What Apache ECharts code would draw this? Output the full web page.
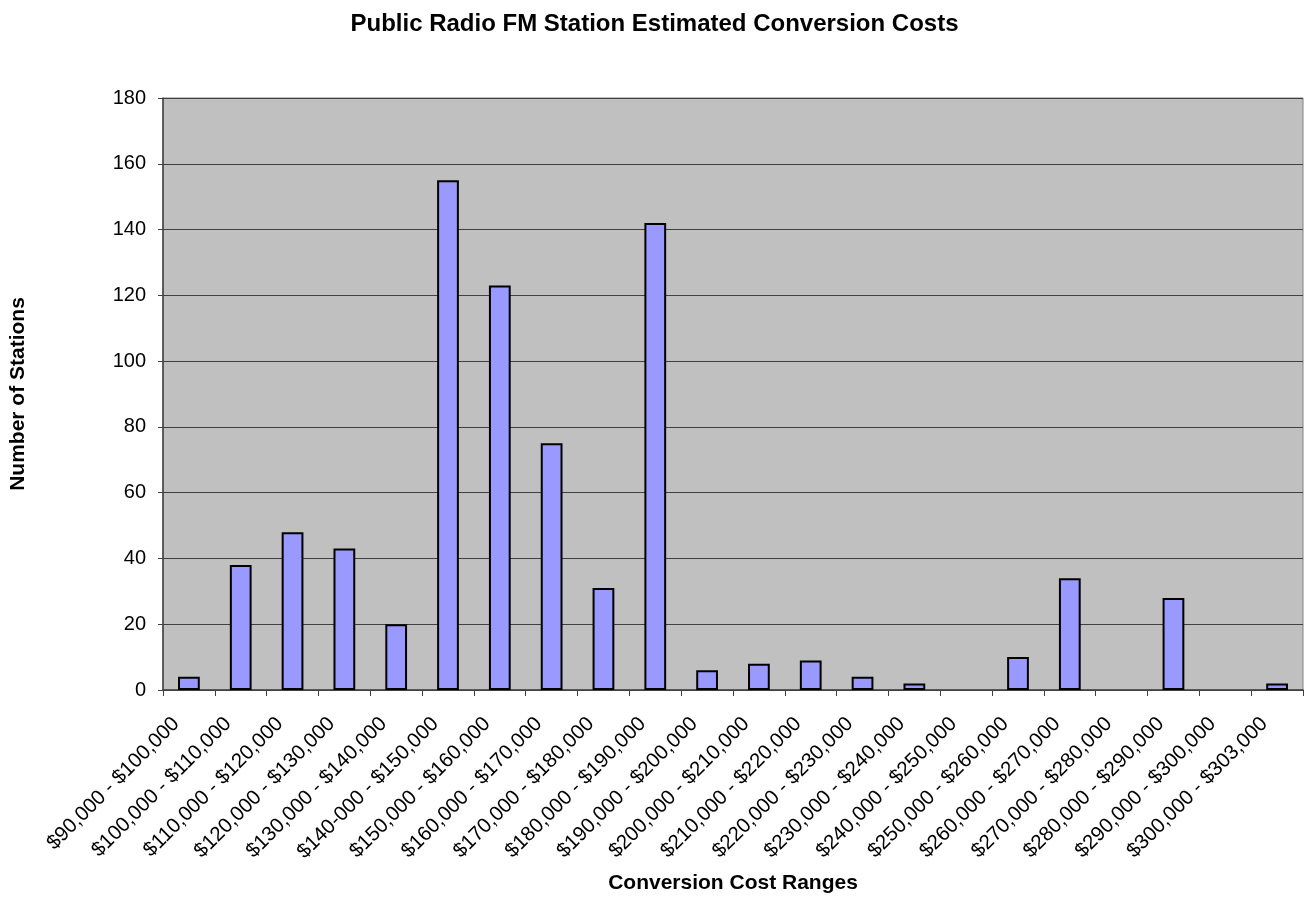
<!DOCTYPE html>
<html>
<head>
<meta charset="utf-8">
<script src="https://cdn.jsdelivr.net/npm/echarts@6/dist/echarts.min.js"></script>
<style>
html,body{margin:0;padding:0;background:#fff;}
#chart{width:1309px;height:899px;}
</style>
</head>
<body>
<div id="chart"></div>
<script>
const categories = [
  "$90,000 - $100,000", "$100,000 - $110,000", "$110,000 - $120,000", "$120,000 - $130,000",
  "$130,000 - $140,000", "$140-000 - $150,000", "$150,000 - $160,000", "$160,000 - $170,000",
  "$170,000 - $180,000", "$180,000 - $190,000", "$190,000 - $200,000", "$200,000 - $210,000",
  "$210,000 - $220,000", "$220,000 - $230,000", "$230,000 - $240,000", "$240,000 - $250,000",
  "$250,000 - $260,000", "$260,000 - $270,000", "$270,000 - $280,000", "$280,000 - $290,000",
  "$290,000 - $300,000", "$300,000 - $303,000"
];
const stations = [4, 38, 48, 43, 20, 155, 123, 75, 31, 142, 6, 8, 9, 4, 2, 0, 10, 34, 0, 28, 0, 2];
const yTicks = { min: 0, max: 180, interval: 20 };

const chart = echarts.init(document.getElementById('chart'), null, { renderer: 'canvas' });
const font = '"Liberation Sans", Arial, sans-serif';
chart.setOption({
  animation: false,
  backgroundColor: '#ffffff',
  textStyle: { fontFamily: font },
  title: {
    text: 'Public Radio FM Station Estimated Conversion Costs',
    left: 'center',
    top: 7,
    textStyle: { fontFamily: font, fontSize: 24, fontWeight: 'bold', color: '#000' }
  },
  grid: {
    left: 163, right: 6, top: 98, bottom: 207,
    show: true, backgroundColor: '#C0C0C0', borderColor: '#808080', borderWidth: 1
  },
  xAxis: {
    type: 'category',
    data: categories,
    name: 'Conversion Cost Ranges',
    nameLocation: 'middle',
    nameGap: 183,
    nameTextStyle: { fontFamily: font, fontSize: 21, fontWeight: 'bold', color: '#000' },
    axisLine: { lineStyle: { color: '#404040', width: 1.5 } },
    axisTick: { show: true, length: 6, alignWithLabel: false, lineStyle: { color: '#404040' } },
    axisLabel: { interval: 0, rotate: 45, margin: 18, padding: [0, 18, 0, 0], fontFamily: font, fontSize: 20.5, color: '#000' }
  },
  yAxis: {
    type: 'value',
    min: yTicks.min, max: yTicks.max, interval: yTicks.interval,
    name: 'Number of Stations',
    nameLocation: 'middle',
    nameGap: 134,
    nameRotate: 90,
    nameTextStyle: { fontFamily: font, fontSize: 21, fontWeight: 'bold', color: '#000' },
    axisLine: { show: true, lineStyle: { color: '#404040', width: 1.5 } },
    axisTick: { show: true, length: 5, lineStyle: { color: '#404040' } },
    axisLabel: { margin: 17, fontFamily: font, fontSize: 20, color: '#000' },
    splitLine: { show: true, lineStyle: { color: '#404040', width: 1 } }
  },
  series: [{
    type: 'bar',
    data: stations.map(v => v === 0 ? { value: 0, itemStyle: { borderWidth: 0 } } : v),
    barWidth: '42%',
    itemStyle: { color: '#9999FF', borderColor: '#000000', borderWidth: 2 }
  }]
});
</script>
</body>
</html>
